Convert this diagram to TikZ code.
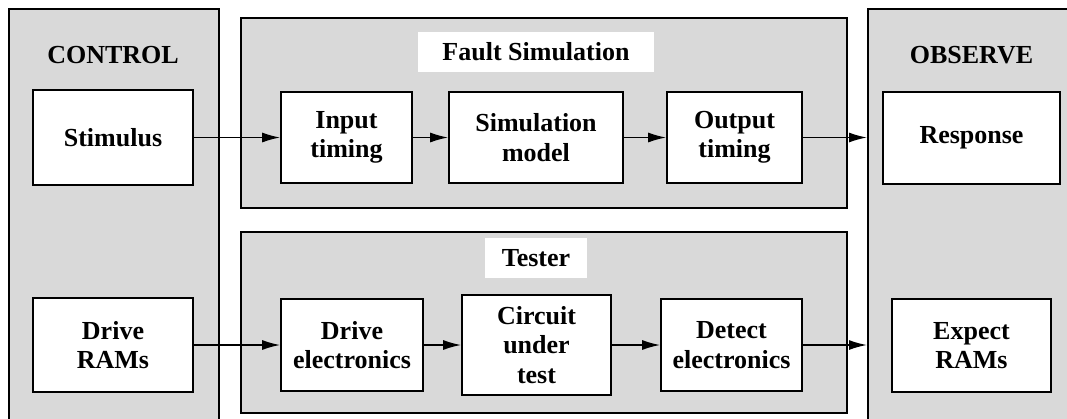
\documentclass[tikz,border=0pt]{standalone}
\usepackage{fontspec}
\setmainfont{Liberation Serif}
\usetikzlibrary{arrows.meta}

\begin{document}
\begin{tikzpicture}[x=1pt,y=-1pt,>={Latex[length=18pt,width=10pt]},line width=1.6pt,
    font=\fontsize{26}{29.5}\selectfont\bfseries,
    panel/.style={draw,fill=black!15,inner sep=0pt,anchor=north west},
    blk/.style={draw,fill=white,align=center,inner sep=0pt},
    title/.style={fill=white,inner sep=0pt,minimum height=40pt}]
    \useasboundingbox (0,0) rectangle (1067,418);
    \clip (0,0) rectangle (1067,418);
    \node[panel,minimum width=210pt,minimum height=440pt] (control) at (8,8) {};
    \node[panel,minimum width=606pt,minimum height=190pt] (fsim) at (240,17) {};
    \node[panel,minimum width=606pt,minimum height=181pt] (tester) at (240,231) {};
    \node[panel,minimum width=220pt,minimum height=440pt] (observe) at (867,8) {};
    \node (ctrltitle) at (113,55.5) {CONTROL};
    \node[title,minimum width=236pt] (fsimtitle) at (536,52) {Fault Simulation};
    \node[title,minimum width=102pt] (testtitle) at (536,258) {Tester};
    \node (obstitle) at (971.5,55.5) {OBSERVE};
    \node[blk,minimum width=160pt,minimum height=95pt] (stim) at (113,137.5) {Stimulus};
    \node[blk,minimum width=160pt,minimum height=94pt] (dram) at (113,345) {Drive\\RAMs};
    \node[blk,minimum width=131pt,minimum height=91pt] (itim) at (346.5,137.5) {Input\\timing};
    \node[blk,minimum width=174pt,minimum height=91pt] (simmod) at (536,137.5) {Simulation\\model};
    \node[blk,minimum width=135pt,minimum height=91pt] (otim) at (734.5,137.5) {Output\\timing};
    \node[blk,minimum width=142pt,minimum height=92pt] (delec) at (352,345) {Drive\\electronics};
    \node[blk,minimum width=149pt,minimum height=100pt] (cut) at (536.5,345) {Circuit\\under\\test};
    \node[blk,minimum width=141pt,minimum height=92pt] (detec) at (731.5,345) {Detect\\electronics};
    \node[blk,minimum width=177pt,minimum height=92pt] (resp) at (971.5,138) {Response};
    \node[blk,minimum width=159pt,minimum height=93pt] (eram) at (971.5,345.5) {Expect\\RAMs};
    \draw[->] (stim) -- (itim);
    \draw[->] (itim) -- (simmod);
    \draw[->] (simmod) -- (otim);
    \draw[->] (otim.east) -- (otim.east -| observe.west);
    \draw[->] (dram) -- (delec);
    \draw[->] (delec) -- (cut);
    \draw[->] (cut) -- (detec);
    \draw[->] (detec.east) -- (detec.east -| observe.west);
  \end{tikzpicture}
\end{document}
